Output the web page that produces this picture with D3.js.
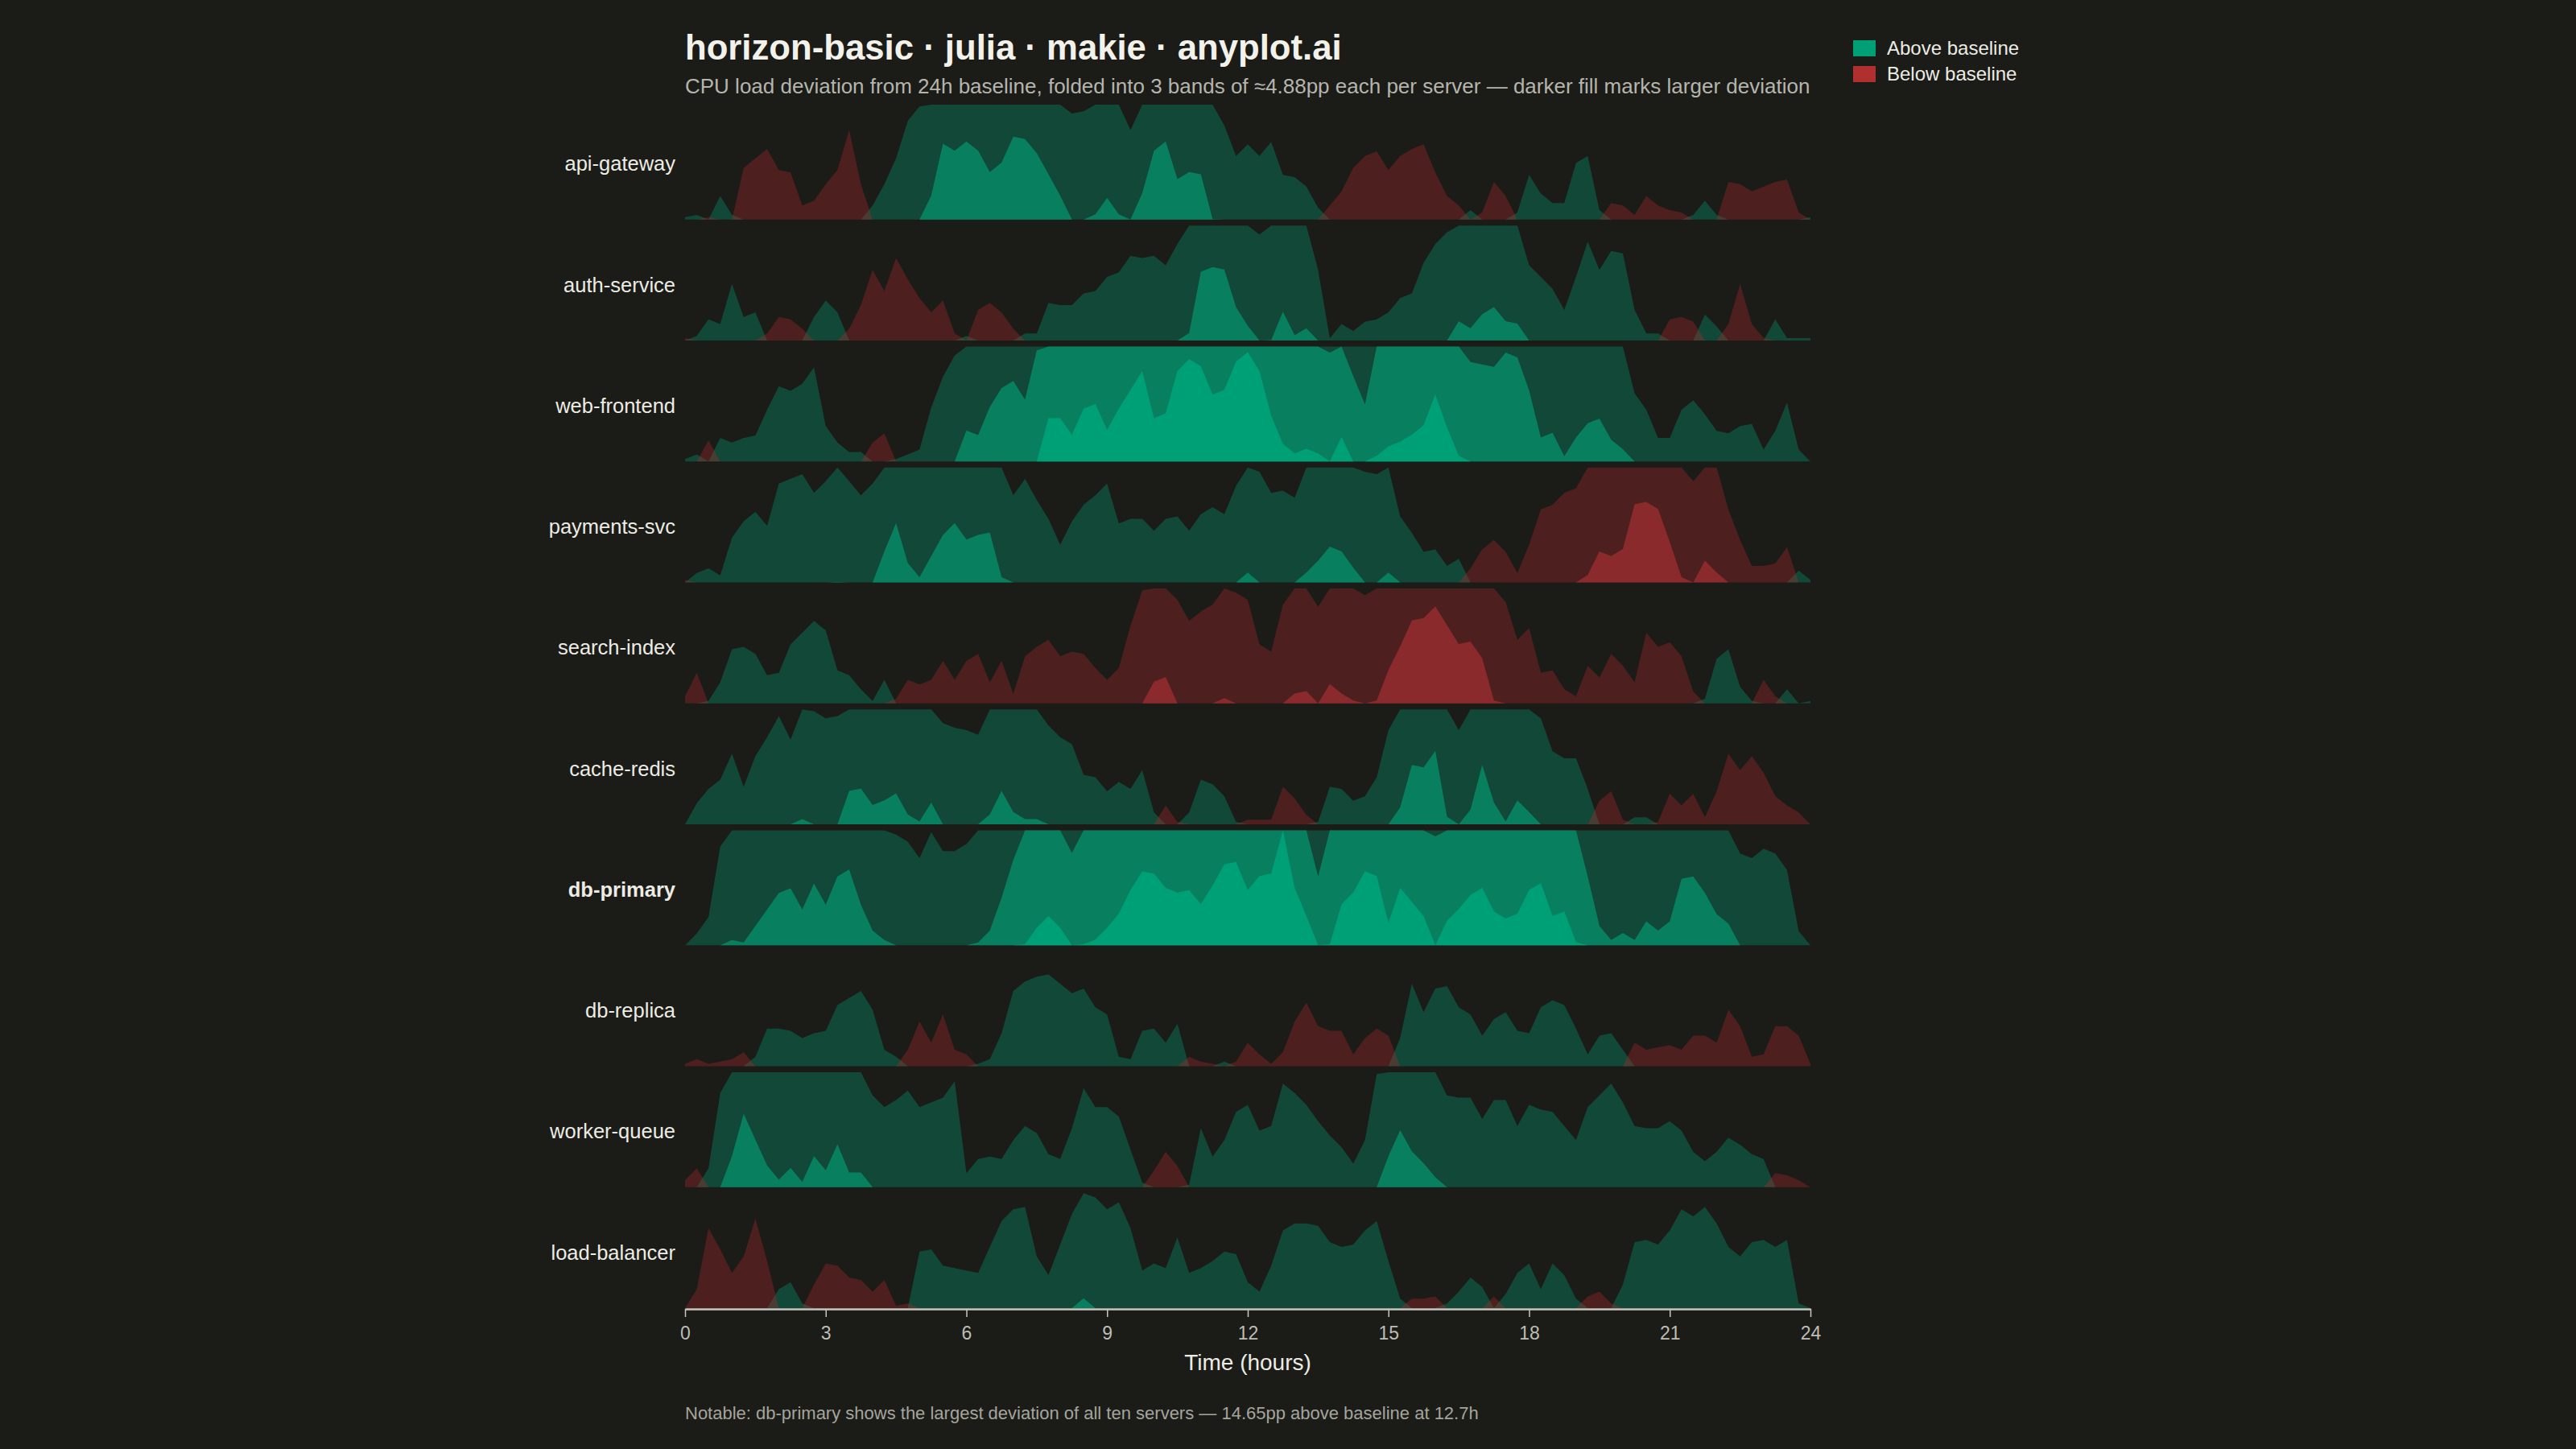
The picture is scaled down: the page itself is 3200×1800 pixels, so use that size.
<!DOCTYPE html>
<html lang="en">
<head>
<meta charset="UTF-8">
<title>horizon-basic</title>
<script src="https://cdnjs.cloudflare.com/ajax/libs/d3/7.8.5/d3.min.js"></script>
<style>
  body { margin: 0; background: #1b1b17; }
  svg text { font-family: "Liberation Sans", Arial, Helvetica, sans-serif; }
</style>
</head>
<body>
<svg id="chart" width="3200" height="1800"></svg>
<script>
var servers = ["api-gateway", "auth-service", "web-frontend", "payments-svc", "search-index",
               "cache-redis", "db-primary", "db-replica", "worker-queue", "load-balancer"];

// sampled every 15 minutes, 0h..24h
var hours = d3.range(0, 24.25, 0.25);
var hourTicks = [0, 3, 6, 9, 12, 15, 18, 21, 24];

// CPU deviation from 24h baseline, percentage points
var apiGateway = [0.1, 0.2, -0.1, 1.0, 0.2, -2.2, -2.6, -3.0, -2.1, -2.0, -0.6, -0.8,
  -1.5, -2.1, -3.8, -1.5, 0.6, 1.5, 2.6, 4.2, 4.8, 5.9, 8.1, 7.8,
  8.2, 7.8, 6.9, 7.3, 8.4, 8.3, 7.7, 6.8, 5.9, 4.5, 4.6, 5.1,
  5.8, 5.1, 3.8, 6.0, 7.8, 8.2, 6.6, 6.9, 6.8, 4.9, 4.0, 2.7,
  3.2, 2.7, 3.3, 1.9, 1.8, 1.4, 0.5, -0.6, -1.2, -2.2, -2.7, -2.9,
  -2.1, -2.7, -3.0, -3.2, -2.0, -1.0, -0.6, 0.4, -0.3, -1.6, -1.0, 0.3,
  1.9, 1.1, 0.7, 0.7, 2.4, 2.7, 0.4, -0.7, -0.6, -0.2, -1.0, -0.6,
  -0.4, -0.3, 0.2, 0.8, 0.2, -1.6, -1.5, -1.2, -1.4, -1.6, -1.7, -0.3,
  0.1];
var authService = [-0.1, 0.2, 0.9, 0.7, 2.4, 1.0, 1.2, -0.3, -1.0, -0.9, -0.5, 1.0,
  1.7, 1.2, -0.5, -1.5, -3.0, -2.1, -3.5, -2.6, -1.8, -1.2, -1.7, -0.3,
  0.2, -1.3, -1.6, -1.2, -0.5, 0.3, 0.3, 1.6, 1.5, 1.5, 2.0, 2.1,
  2.7, 2.9, 3.6, 3.5, 3.6, 3.2, 4.1, 5.2, 7.8, 8.0, 7.9, 6.3,
  5.5, 4.5, 4.9, 6.1, 5.1, 5.4, 3.0, 0.1, 0.7, 0.4, 0.8, 0.9,
  1.2, 1.8, 2.0, 3.3, 4.1, 4.6, 5.7, 5.4, 6.0, 6.3, 5.7, 5.6,
  3.2, 2.7, 2.2, 1.3, 2.7, 4.2, 3.0, 3.8, 3.7, 1.3, 0.3, 0.3,
  -0.9, -1.0, -0.8, 1.1, 0.6, -0.7, -2.4, -0.7, -0.1, 0.9, 0.1, 0.1,
  0.1];
var webFrontend = [0.1, 0.3, -0.9, 1.0, 0.8, 1.0, 1.1, 2.2, 3.2, 3.0, 3.3, 4.0,
  1.5, 0.8, 0.4, 0.4, -0.8, -1.2, 0.1, 0.3, 0.5, 2.3, 3.6, 4.5,
  6.2, 6.0, 7.2, 8.0, 8.3, 7.5, 9.6, 11.6, 11.6, 10.9, 12.0, 12.2,
  11.1, 12.0, 12.8, 13.6, 11.6, 11.8, 13.6, 14.1, 13.8, 12.6, 12.8, 14.0,
  14.4, 13.6, 11.7, 10.5, 10.1, 10.3, 10.1, 9.5, 10.8, 8.5, 7.3, 10.0,
  10.4, 10.6, 10.9, 11.3, 12.6, 11.2, 10.0, 9.1, 9.0, 8.9, 9.5, 9.3,
  7.9, 5.9, 6.1, 5.1, 5.9, 6.5, 6.7, 5.8, 5.4, 2.9, 2.2, 1.0,
  1.0, 2.2, 2.6, 2.0, 1.3, 1.2, 1.5, 1.6, 0.5, 1.3, 2.5, 0.5,
  0.0];
var paymentsSvc = [-0.1, 0.4, 0.6, 0.3, 1.9, 2.6, 3.0, 2.4, 4.2, 4.4, 4.6, 3.8,
  4.3, 4.9, 4.3, 3.7, 4.2, 6.2, 7.4, 5.7, 5.1, 6.0, 6.9, 7.4,
  6.7, 6.9, 7.0, 5.1, 3.7, 4.4, 3.5, 2.7, 1.6, 2.6, 3.3, 3.7,
  4.2, 2.5, 2.7, 2.7, 2.2, 2.7, 2.8, 2.2, 2.9, 3.2, 2.9, 4.1,
  5.3, 4.7, 3.8, 3.9, 3.6, 5.3, 5.8, 6.4, 6.2, 5.5, 4.7, 4.6,
  5.3, 2.8, 2.1, 1.3, 1.4, 0.7, 1.0, -0.6, -1.4, -1.8, -1.3, -0.4,
  -1.6, -3.1, -3.3, -3.8, -4.0, -5.2, -6.2, -6.0, -6.3, -8.2, -8.3, -8.0,
  -6.6, -5.1, -4.3, -5.8, -5.3, -3.1, -1.8, -0.7, -0.7, -0.8, -1.5, 0.5,
  0.1];
var searchIndex = [-0.3, -1.3, 0.1, 0.9, 2.3, 2.4, 2.1, 1.2, 1.3, 2.5, 3.0, 3.5,
  3.1, 1.4, 1.2, 0.6, 0.1, 1.0, -0.2, -1.0, -0.8, -1.0, -1.8, -1.0,
  -1.8, -2.1, -0.9, -1.8, -0.4, -2.0, -2.4, -2.7, -2.0, -2.2, -2.1, -1.5,
  -1.0, -1.5, -3.3, -4.8, -5.8, -6.0, -4.4, -3.5, -3.9, -4.2, -5.1, -4.7,
  -4.4, -2.5, -2.2, -4.2, -5.3, -5.4, -4.1, -5.7, -5.3, -5.0, -4.6, -5.0,
  -6.3, -7.3, -8.4, -8.5, -9.0, -8.2, -7.4, -7.5, -6.8, -5.0, -4.3, -2.7,
  -3.2, -1.3, -1.4, -0.6, -0.3, -1.6, -1.1, -2.1, -1.6, -0.9, -3.0, -2.4,
  -2.6, -2.0, -0.5, 0.2, 1.9, 2.3, 0.7, 0.1, -1.0, -0.3, 0.6, 0.0,
  0.1];
var cacheRedis = [0.0, 0.9, 1.5, 1.9, 3.0, 1.6, 2.9, 3.7, 4.6, 3.6, 5.1, 4.8,
  4.5, 4.6, 6.3, 6.4, 5.7, 5.9, 6.2, 5.3, 5.0, 5.8, 4.3, 4.1,
  4.0, 3.8, 5.3, 6.3, 5.4, 5.1, 5.1, 4.2, 3.7, 3.4, 2.1, 2.0,
  1.4, 1.8, 1.5, 2.3, 0.5, -0.8, -0.1, 0.5, 1.9, 1.7, 1.2, 0.1,
  -0.2, -0.2, -0.2, -1.6, -1.1, -0.4, 0.1, 1.6, 1.5, 1.0, 1.2, 2.0,
  4.0, 5.6, 7.4, 7.3, 8.0, 5.2, 4.0, 5.5, 7.4, 5.8, 5.0, 5.9,
  5.4, 4.5, 3.1, 2.8, 2.8, 1.5, -1.0, -1.4, -0.2, 0.3, 0.3, -0.1,
  -1.3, -0.8, -1.3, -0.3, -1.4, -3.0, -2.3, -2.9, -2.2, -1.2, -0.8, -0.5,
  0.0];
var dbPrimary = [0.0, 0.5, 1.2, 4.2, 5.1, 5.0, 5.7, 6.4, 7.1, 7.3, 6.4, 7.5,
  6.6, 7.8, 8.1, 6.6, 5.5, 5.1, 4.7, 4.4, 3.7, 4.8, 4.0, 4.0,
  4.3, 5.0, 5.5, 6.9, 8.5, 9.8, 10.5, 11.0, 10.5, 8.8, 9.8, 10.0,
  10.5, 11.1, 12.1, 12.9, 12.8, 12.2, 12.0, 12.1, 11.5, 12.3, 13.2, 13.3,
  12.1, 12.7, 12.8, 14.65, 12.2, 11.0, 7.8, 9.8, 11.5, 12.0, 12.9, 12.7,
  10.7, 12.2, 11.6, 11.0, 9.5, 10.8, 11.3, 11.9, 12.2, 11.2, 10.9, 11.1,
  12.1, 12.4, 11.0, 11.2, 9.9, 7.8, 5.7, 5.1, 5.4, 5.1, 5.9, 5.5,
  5.9, 7.7, 7.8, 7.1, 6.2, 5.8, 3.9, 3.7, 4.1, 3.9, 3.2, 0.6,
  0.0];
var dbReplica = [-0.1, -0.3, -0.1, -0.2, -0.3, -0.6, 0.4, 1.6, 1.6, 1.5, 1.2, 1.4,
  1.5, 2.6, 2.9, 3.2, 2.4, 0.7, 0.4, -0.7, -1.9, -1.0, -2.2, -0.7,
  -0.5, 0.1, 0.3, 1.4, 3.2, 3.6, 3.8, 3.9, 3.5, 3.1, 3.3, 2.5,
  2.2, 0.4, 0.3, 1.5, 1.6, 1.0, 1.8, -0.4, -0.2, -0.1, 0.2, -0.2,
  -1.0, -0.5, -0.1, -0.6, -1.9, -2.7, -1.7, -1.5, -1.5, -0.5, -1.2, -1.6,
  -1.3, 1.2, 3.5, 2.3, 3.3, 3.4, 2.5, 2.2, 1.3, 2.0, 2.3, 1.5,
  1.4, 2.5, 2.8, 2.6, 1.6, 0.5, 1.3, 1.4, 0.7, -1.0, -0.7, -0.8,
  -0.9, -0.7, -1.3, -1.3, -1.0, -2.4, -1.7, -0.4, -0.5, -1.7, -1.7, -1.3,
  -0.1];
var workerQueue = [-0.3, -0.8, 0.8, 4.0, 6.2, 8.0, 6.9, 5.8, 5.2, 5.7, 5.1, 6.2,
  5.6, 6.7, 5.5, 5.5, 3.9, 3.4, 3.7, 4.1, 3.4, 3.6, 3.8, 4.5,
  0.6, 1.2, 1.3, 1.2, 2.0, 2.6, 2.3, 1.4, 1.2, 2.5, 4.2, 3.4,
  3.4, 3.0, 1.6, 0.2, -0.7, -1.5, -0.9, 0.1, 2.5, 1.3, 2.0, 3.2,
  3.5, 2.4, 2.6, 4.4, 4.0, 3.5, 2.8, 2.2, 1.7, 1.0, 2.0, 4.8,
  6.2, 7.3, 6.4, 5.9, 5.3, 3.9, 3.8, 3.8, 2.9, 3.7, 3.7, 2.6,
  3.5, 3.3, 3.2, 2.6, 2.0, 3.4, 3.9, 4.4, 3.6, 2.6, 2.5, 2.5,
  2.8, 2.4, 1.5, 1.1, 1.5, 2.1, 1.8, 1.4, 1.2, -0.6, -0.5, -0.3,
  0.0];
var loadBalancer = [0.0, -0.8, -3.4, -2.5, -1.5, -2.2, -3.8, -2.0, 0.8, 1.1, 0.2, -1.0,
  -1.9, -1.8, -1.3, -1.2, -0.7, -1.2, -0.1, -0.2, 2.4, 2.5, 1.8, 1.7,
  1.6, 1.5, 2.6, 3.7, 4.2, 4.3, 2.2, 1.4, 2.7, 4.0, 5.3, 4.7,
  4.2, 4.5, 3.4, 1.6, 1.9, 1.7, 3.0, 1.5, 1.7, 2.0, 2.4, 2.3,
  1.1, 0.7, 1.8, 3.3, 3.6, 3.6, 3.5, 2.8, 2.6, 2.7, 3.3, 3.7,
  2.0, 0.4, -0.4, -0.4, -0.5, 0.2, 0.7, 1.3, 0.9, -0.5, 0.6, 1.5,
  1.9, 0.8, 1.9, 1.4, 0.4, -0.5, -0.7, -0.2, 1.0, 2.8, 2.9, 2.7,
  3.3, 4.2, 3.9, 4.3, 3.6, 2.6, 2.2, 2.8, 2.9, 2.6, 2.9, 0.2,
  0.0];

var seriesValues = [apiGateway, authService, webFrontend, paymentsSvc, searchIndex,
                    cacheRedis, dbPrimary, dbReplica, workerQueue, loadBalancer];

var bandSize = 4.88;
var bandCount = 3;
var posColors = ["#009e73", "#088060", "#00a077"];
var negColors = ["#ac2a2e", "#8b2a2d", "#c23a3a"];
var legendItems = ["Above baseline", "Below baseline"];
var legendColors = ["#00a077", "#b03030"];

var W = 3200, H = 1800;
var plotLeft = 851, plotRight = 2249, plotTop = 130, plotBottom = 1625;

var svg = d3.select('#chart').attr('viewBox', '0 0 ' + W + ' ' + H);
svg.append('rect').attr('width', W).attr('height', H).attr('fill', '#1b1b17');

var x = d3.scaleLinear().domain([0, 24]).range([plotLeft, plotRight]);
var y = d3.scaleBand().domain(servers).range([plotTop, plotBottom]).paddingInner(0.05).paddingOuter(0);

// horizon bands: lowest band first, opaque upper bands stacked on top
for (var k = 0; k < bandCount; k++) {
  [1, -1].forEach(function(sign) {
    servers.forEach(function(name, i) {
      var rowTop = y(name), rowBottom = rowTop + y.bandwidth();
      var bandY = d3.scaleLinear().domain([0, bandSize]).range([rowBottom, rowTop]).clamp(true);
      var area = d3.area()
        .x(function(d, j) { return x(hours[j]); })
        .y0(rowBottom)
        .y1(function(d) { return bandY(sign * d - k * bandSize); });
      svg.append('path')
        .datum(seriesValues[i])
        .attr('d', area)
        .attr('fill', sign > 0 ? posColors[k] : negColors[k])
        .attr('fill-opacity', k === 0 ? 0.35 : 1);
    });
  });
}

svg.selectAll('.row-label')
  .data(servers)
  .enter()
  .append('text')
  .attr('class', 'row-label')
  .attr('x', plotLeft - 12)
  .attr('y', function(d) { return y(d) + y.bandwidth() / 2 + 2; })
  .attr('dy', '0.35em')
  .attr('text-anchor', 'end')
  .attr('fill', '#ecece4')
  .style('font-size', '25.5px')
  .style('font-weight', function(d) { return d === 'db-primary' ? 'bold' : 'normal'; })
  .text(function(d) { return d; });

var xAxis = d3.axisBottom(x).tickValues(hourTicks).tickSize(10).tickSizeOuter(0).tickPadding(12)
  .tickFormat(d3.format('d'));
var gx = svg.append('g')
  .attr('transform', 'translate(0,' + (plotBottom + 1) + ')')
  .call(xAxis);
gx.select('.domain').attr('stroke', '#c8c8c0').attr('stroke-width', 2.5);
gx.selectAll('.tick line').attr('stroke', '#c8c8c0').attr('stroke-width', 1.5);
gx.selectAll('.tick text').attr('fill', '#bdbdb5').style('font-size', '23px')
  .style('font-family', '"Liberation Sans", Arial, sans-serif');

svg.append('text')
  .attr('x', (plotLeft + plotRight) / 2)
  .attr('y', 1702)
  .attr('text-anchor', 'middle')
  .attr('fill', '#ecece4')
  .style('font-size', '28px')
  .text('Time (hours)');

svg.append('text')
  .attr('x', plotLeft)
  .attr('y', 74)
  .attr('fill', '#f2f2ea')
  .style('font-size', '43.7px')
  .style('font-weight', 'bold')
  .text('horizon-basic · julia · makie · anyplot.ai');

svg.append('text')
  .attr('x', plotLeft)
  .attr('y', 116)
  .attr('fill', '#b5b5ad')
  .style('font-size', '26px')
  .text('CPU load deviation from 24h baseline, folded into 3 bands of \u22484.88pp each per server \u2014 darker fill marks larger deviation');

var legend = svg.append('g').attr('id', 'legend');
legendItems.forEach(function(label, i) {
  legend.append('rect')
    .attr('x', 2302).attr('y', 50 + i * 32)
    .attr('width', 28).attr('height', 20)
    .attr('fill', legendColors[i]);
  legend.append('text')
    .attr('x', 2344).attr('y', 60 + i * 32)
    .attr('dy', '0.35em')
    .attr('fill', '#ecece4')
    .style('font-size', '24px')
    .text(label);
});

svg.append('text')
  .attr('x', plotLeft)
  .attr('y', 1763)
  .attr('fill', '#a5a59d')
  .style('font-size', '22px')
  .text('Notable: db-primary shows the largest deviation of all ten servers \u2014 14.65pp above baseline at 12.7h');
</script>
</body>
</html>
